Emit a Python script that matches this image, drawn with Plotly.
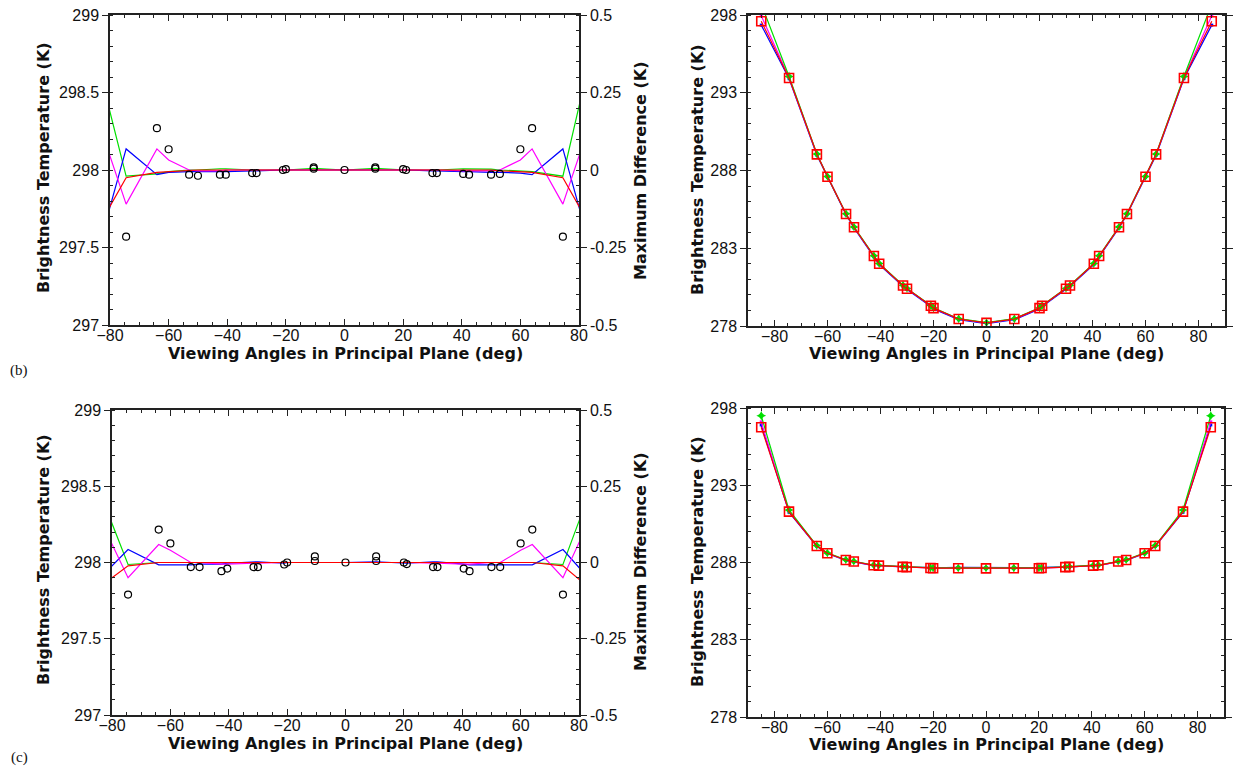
import plotly.graph_objects as go

# ---------------- data ----------------
angles = [-85, -74.5, -64, -60, -53, -50, -42.5, -40.5, -31.5, -30, -21, -20, -10.5, 0,
          10.5, 20, 21, 30, 31.5, 40.5, 42.5, 50, 53, 60, 64, 74.5, 85]
circ_angles = [-74.5, -64, -60, -53, -50, -42.5, -40.5, -31.5, -30, -21, -20, -10.5, -10.5, 0,
               10.5, 10.5, 20, 21, 30, 31.5, 40.5, 42.5, 50, 53, 60, 64, 74.5]

# panel (b) left: brightness temperature differences
b_green = [298.75, 297.96, 297.975, 297.99, 298.0, 298.0, 298.008, 298.008, 298.0, 298.0, 298.0, 298.0, 298.01, 298.0,
           298.01, 298.0, 298.0, 298.0, 298.0, 298.008, 298.008, 298.005, 298.0, 297.995, 297.99, 297.96, 298.82]
b_blue = [297.42, 298.136, 297.97, 297.985, 297.99, 297.99, 297.99, 297.99, 297.995, 297.995, 298.0, 298.0, 298.0, 298.0,
          298.0, 298.0, 298.0, 297.995, 297.995, 297.99, 297.99, 297.985, 297.985, 297.98, 297.97, 298.136, 297.42]
b_magenta = [298.37, 297.78, 298.136, 298.065, 298.0, 297.995, 297.995, 298.0, 298.0, 298.0, 298.0, 298.0, 298.0, 298.0,
             298.0, 298.0, 298.0, 298.0, 298.0, 297.995, 297.995, 297.995, 298.0, 298.065, 298.136, 297.78, 298.37]
b_red = [297.6, 297.95, 297.985, 297.99, 297.995, 298.0, 298.0, 298.0, 298.0, 298.0, 298.0, 298.0, 298.0, 298.0,
         298.0, 298.0, 298.0, 298.0, 298.0, 298.0, 298.0, 298.0, 297.995, 297.99, 297.985, 297.95, 297.6]
b_circ = [297.57, 298.27, 298.134, 297.97, 297.963, 297.97, 297.97, 297.98, 297.98, 298.0, 298.005, 298.017, 298.008, 298.0,
          298.017, 298.008, 298.005, 298.0, 297.98, 297.98, 297.975, 297.97, 297.97, 297.975, 298.134, 298.27, 297.57]

# panel (c) left
c_green = [298.5, 297.987, 298.0, 298.0, 298.0, 298.0, 298.0, 298.0, 298.0, 298.0, 298.0, 298.0, 298.0, 298.0,
           298.0, 298.0, 298.0, 298.0, 298.0, 298.0, 298.0, 298.0, 298.0, 298.0, 298.0, 297.987, 298.53]
c_blue = [297.88, 298.085, 297.985, 297.985, 297.985, 297.99, 297.99, 297.995, 298.005, 298.005, 297.995, 298.0, 298.0, 298.0,
          298.005, 298.0, 297.995, 298.005, 298.005, 297.99, 297.985, 297.985, 297.985, 297.985, 297.985, 298.085, 297.86]
c_magenta = [298.32, 297.9, 298.118, 298.08, 298.0, 298.0, 297.99, 297.99, 297.995, 297.995, 298.0, 298.0, 298.0, 298.0,
             298.0, 298.0, 298.0, 297.995, 297.995, 297.99, 297.99, 298.0, 298.0, 298.08, 298.118, 297.9, 298.34]
c_red = [297.83, 297.978, 298.0, 298.0, 298.0, 298.0, 298.0, 298.0, 298.0, 298.0, 298.0, 298.0, 298.0, 298.0,
         298.0, 298.0, 298.0, 298.0, 298.0, 298.0, 298.0, 298.0, 298.0, 298.0, 298.0, 297.978, 297.81]
c_circ = [297.79, 298.216, 298.125, 297.97, 297.97, 297.943, 297.96, 297.97, 297.97, 297.987, 298.0, 298.04, 298.01, 298.0,
          298.04, 298.01, 298.0, 297.99, 297.97, 297.97, 297.96, 297.943, 297.97, 297.97, 298.125, 298.216, 297.79]

# panel (b) right: brightness temperature
b_tb_red = [297.6, 293.95, 289.04, 287.6, 285.2, 284.35, 282.5, 282.0, 280.6, 280.4, 279.3, 279.15, 278.45, 278.2,
            278.45, 279.15, 279.3, 280.4, 280.6, 282.0, 282.5, 284.35, 285.2, 287.6, 289.04, 293.95, 297.6]
b_tb_green = [298.7, 294.05, 289.06, 287.62, 285.22, 284.37, 282.52, 282.02, 280.62, 280.42, 279.32, 279.17, 278.47, 278.22,
              278.47, 279.17, 279.32, 280.42, 280.62, 282.02, 282.52, 284.37, 285.22, 287.62, 289.06, 294.05, 298.7]
b_tb_blue = [297.35, 293.9, 288.98, 287.55, 285.15, 284.3, 282.45, 281.95, 280.55, 280.35, 279.25, 279.1, 278.4, 278.15,
             278.4, 279.1, 279.25, 280.35, 280.55, 281.95, 282.45, 284.3, 285.15, 287.55, 288.98, 293.9, 297.35]
b_tb_magenta = [297.95, 293.98, 289.05, 287.62, 285.2, 284.35, 282.5, 282.0, 280.6, 280.4, 279.3, 279.15, 278.45, 278.2,
                278.45, 279.15, 279.3, 280.4, 280.6, 282.0, 282.5, 284.35, 285.2, 287.62, 289.05, 293.98, 297.95]

# panel (c) right
c_tb_red = [296.75, 291.29, 289.07, 288.6, 288.16, 288.06, 287.82, 287.8, 287.72, 287.7, 287.64, 287.63, 287.63, 287.62,
            287.63, 287.63, 287.64, 287.7, 287.72, 287.8, 287.82, 288.06, 288.16, 288.6, 289.07, 291.29, 296.75]
c_tb_green = [297.5, 291.4, 289.1, 288.62, 288.18, 288.08, 287.84, 287.82, 287.74, 287.72, 287.66, 287.65, 287.65, 287.64,
              287.65, 287.65, 287.66, 287.72, 287.74, 287.82, 287.84, 288.08, 288.18, 288.62, 289.1, 291.4, 297.5]
c_tb_blue = [296.9, 291.25, 289.05, 288.58, 288.14, 288.05, 287.8, 287.8, 287.72, 287.7, 287.68, 287.66, 287.68, 287.66,
             287.68, 287.66, 287.68, 287.7, 287.72, 287.8, 287.8, 288.05, 288.14, 288.58, 289.05, 291.25, 296.9]
c_tb_magenta = [297.1, 291.3, 289.08, 288.6, 288.16, 288.06, 287.82, 287.8, 287.72, 287.7, 287.64, 287.63, 287.63, 287.62,
                287.63, 287.63, 287.64, 287.7, 287.72, 287.8, 287.82, 288.06, 288.16, 288.6, 289.08, 291.3, 297.1]

COL_G, COL_B, COL_M, COL_R = "#00e000", "#0000ff", "#ff00ff", "#ff0000"

W, H = 1233, 772
fig = go.Figure()

def xd(a, b):
    return [a / W, b / W]

def yd(top, bot):
    return [1 - bot / H, 1 - top / H]

# ----------- traces -----------
def diff_panel(xa, ya, g, b, m, r, circ):
    for vals, col in [(g, COL_G), (b, COL_B), (m, COL_M), (r, COL_R)]:
        fig.add_trace(go.Scatter(x=angles, y=vals, mode="lines", xaxis=xa, yaxis=ya,
                                 line=dict(color=col, width=1.2), showlegend=False, cliponaxis=True))
    fig.add_trace(go.Scatter(x=circ_angles, y=circ, mode="markers", xaxis=xa, yaxis=ya,
                             marker=dict(symbol="circle-open", size=7, color="black", line=dict(width=1.2)),
                             showlegend=False))

def tb_panel(xa, ya, g, b, m, r):
    fig.add_trace(go.Scatter(x=angles, y=b, mode="lines+markers", xaxis=xa, yaxis=ya,
                             line=dict(color=COL_B, width=1.2),
                             marker=dict(symbol="square", size=3, color=COL_B), showlegend=False))
    fig.add_trace(go.Scatter(x=angles, y=m, mode="lines+markers", xaxis=xa, yaxis=ya,
                             line=dict(color=COL_M, width=1.2),
                             marker=dict(symbol="square", size=3, color=COL_M), showlegend=False))
    fig.add_trace(go.Scatter(x=angles, y=g, mode="lines+markers", xaxis=xa, yaxis=ya,
                             line=dict(color=COL_G, width=1.2),
                             marker=dict(symbol="star-diamond", size=7, color=COL_G), showlegend=False))
    fig.add_trace(go.Scatter(x=angles, y=r, mode="lines+markers", xaxis=xa, yaxis=ya,
                             line=dict(color=COL_R, width=1.2),
                             marker=dict(symbol="square-open", size=9, color=COL_R, line=dict(width=1.6)),
                             showlegend=False))

diff_panel("x", "y", b_green, b_blue, b_magenta, b_red, b_circ)
tb_panel("x2", "y2", b_tb_green, b_tb_blue, b_tb_magenta, b_tb_red)
diff_panel("x3", "y3", c_green, c_blue, c_magenta, c_red, c_circ)
tb_panel("x4", "y4", c_tb_green, c_tb_blue, c_tb_magenta, c_tb_red)
# empty traces so the secondary (difference) axes are drawn
fig.add_trace(go.Scatter(x=[], y=[], xaxis="x", yaxis="y5", showlegend=False))
fig.add_trace(go.Scatter(x=[], y=[], xaxis="x3", yaxis="y6", showlegend=False))

TICKFONT = dict(family="Liberation Sans, Arial, sans-serif", size=16, color="#111")
base = dict(showline=True, linecolor="#222", linewidth=1.5, showgrid=False, zeroline=False,
            tickfont=TICKFONT, ticklen=6, tickcolor="#222", tickwidth=1.2, automargin=False,
            ticklabeloverflow="allow")

def xax(dom, anchor, rng):
    return dict(base, domain=dom, anchor=anchor, range=rng, tick0=0, dtick=20, ticks="inside",
                mirror="ticks", ticklabelstandoff=-5,
                minor=dict(dtick=5, ticks="inside", ticklen=3, tickcolor="#222"))

def yax(dom, anchor, rng, dtick, minor, mirror):
    return dict(base, domain=dom, anchor=anchor, range=rng, tick0=rng[0], dtick=dtick, ticks="outside",
                mirror=mirror, minor=dict(dtick=minor, ticks="inside", ticklen=3, tickcolor="#222"))

tl_x, tl_y = xd(110, 579), yd(15, 325)
tr_x, tr_y = xd(748, 1225), yd(15, 326)
bl_x, bl_y = xd(112, 579), yd(410, 715)
br_x, br_y = xd(748, 1224), yd(408, 717)

fig.update_layout(
    width=W, height=H, margin=dict(l=0, r=0, t=0, b=0, pad=0, autoexpand=False),
    paper_bgcolor="white", plot_bgcolor="white", showlegend=False,
    xaxis=xax(tl_x, "y", [-80, 80]),
    yaxis=yax(tl_y, "x", [297, 299], 0.5, 0.1, False),
    xaxis2=xax(tr_x, "y2", [-90, 90]),
    yaxis2=yax(tr_y, "x2", [278, 298], 5, 1, "ticks"),
    xaxis3=xax(bl_x, "y3", [-80, 80]),
    yaxis3=yax(bl_y, "x3", [297, 299], 0.5, 0.1, False),
    xaxis4=xax(br_x, "y4", [-90, 90]),
    yaxis4=yax(br_y, "x4", [278, 298], 5, 1, "ticks"),
    yaxis5=dict(yax(tl_y, "x", [-0.5, 0.5], 0.25, 0.05, False), overlaying="y", side="right",
                tickvals=[-0.5, -0.25, 0, 0.25, 0.5], ticktext=["-0.5", "-0.25", "0", "0.25", "0.5"]),
    yaxis6=dict(yax(bl_y, "x3", [-0.5, 0.5], 0.25, 0.05, False), overlaying="y3", side="right",
                tickvals=[-0.5, -0.25, 0, 0.25, 0.5], ticktext=["-0.5", "-0.25", "0", "0.25", "0.5"]),
)

TITLEFONT = dict(family="DejaVu Sans, Verdana, sans-serif", size=16, color="#111")
ann = []
def add_text(px, py, text, angle=0, font=TITLEFONT):
    ann.append(dict(x=px / W, y=1 - py / H, xref="paper", yref="paper", text=text,
                    showarrow=False, textangle=angle, font=font, xanchor="center", yanchor="middle"))

xlab = "<b>Viewing Angles in Principal Plane (deg)</b>"
ylab = "<b>Brightness Temperature (K)</b>"
dlab = "<b>Maximum Difference (K)</b>"
add_text(345, 353, xlab)
add_text(986, 353, xlab)
add_text(345, 743, xlab)
add_text(986, 744, xlab)
add_text(43, 168, ylab, -90)
add_text(43, 560, ylab, -90)
add_text(697, 170, ylab, -90)
add_text(697, 562, ylab, -90)
add_text(640, 171, dlab, -90)
add_text(640, 562, dlab, -90)
SERIF = dict(family="Liberation Serif, Times New Roman, serif", size=15, color="#111")
add_text(19, 371, "(b)", font=SERIF)
add_text(19, 757, "(c)", font=SERIF)
fig.update_layout(annotations=ann)

fig.write_html("out.html", config={"displayModeBar": False},
               post_script="document.body.style.margin='0';document.body.style.padding='0';"
                           "document.body.style.overflow='hidden';")
